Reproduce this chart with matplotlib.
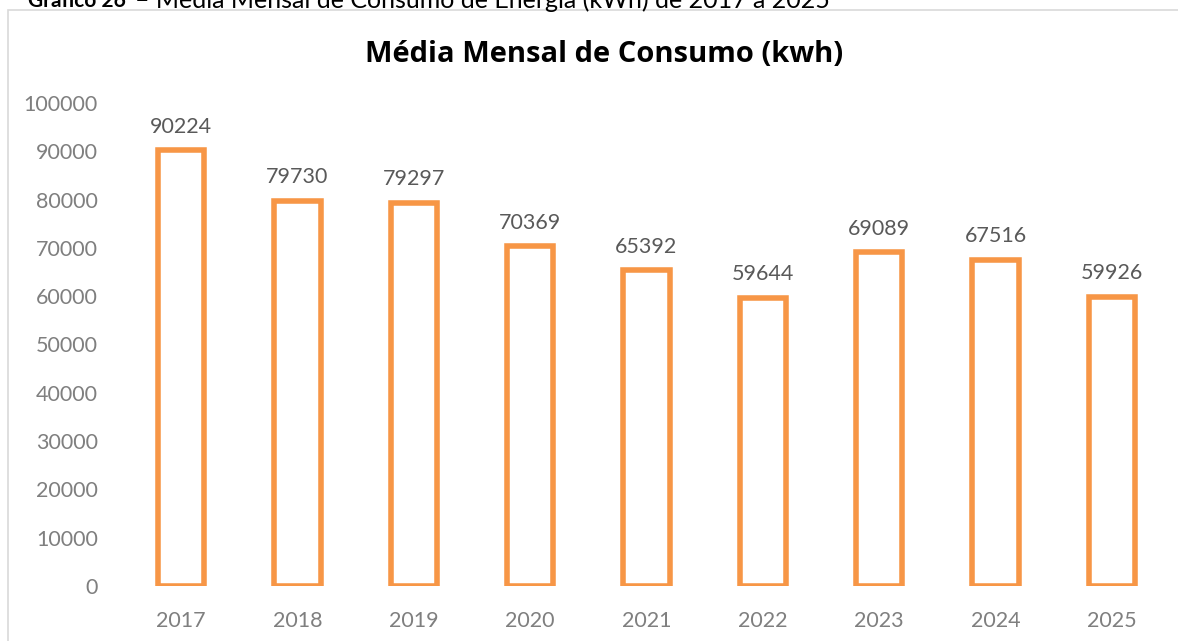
import matplotlib.pyplot as plt
from matplotlib.patches import Rectangle

anos = ['2017', '2018', '2019', '2020', '2021', '2022', '2023', '2024', '2025']
consumo = [90224, 79730, 79297, 70369, 65392, 59644, 69089, 67516, 59926]

plt.rcParams['font.family'] = ['Lato', 'DejaVu Sans']

fig = plt.figure(figsize=(11.78, 6.41), dpi=100)

# caption cut off at the top of the picture (as in the source image)
fig.text(28 / 1178, 0.999, 'Gráfico 26', fontsize=15, fontweight='bold', color='black', va='center', ha='left')
fig.text(135 / 1178, 0.999, '– Média Mensal de Consumo de Energia (kWh) de 2017 a 2025', fontsize=18,
         color='black', va='center', ha='left')

# light frame around chart area
fig.patches.append(Rectangle((8 / 1178, -0.1), 1.2, (641 - 10) / 641 + 0.1, transform=fig.transFigure,
                             fill=False, edgecolor='#D9D9D9', linewidth=1.2))

ax = fig.add_axes([123 / 1178, 55 / 641, 1047 / 1178, 483 / 641])
x = range(len(anos))
ax.bar(x, consumo, width=0.4, facecolor='white', edgecolor='#F79646', linewidth=4)

for xi, v in zip(x, consumo):
    ax.text(xi, v + 2800, str(v), ha='center', va='bottom', fontsize=15.5, color='#595959')

ax.set_xlim(-0.5, len(anos) - 0.5)
ax.set_ylim(0, 100000)
ax.set_yticks(range(0, 100001, 10000))
ax.set_yticklabels([str(t) for t in range(0, 100001, 10000)])
ax.set_xticks(list(x))
ax.set_xticklabels(anos)
ax.tick_params(axis='both', length=0, labelsize=15.5, labelcolor='#7F7F7F')
ax.tick_params(axis='y', pad=18)
ax.tick_params(axis='x', pad=18)
for s in ax.spines.values():
    s.set_visible(False)
ax.patch.set_alpha(0)

fig.text(604 / 1178, 1 - 55 / 641, 'Média Mensal de Consumo (kwh)', ha='center', va='center',
         fontsize=21, fontweight='bold', color='black', family=['Open Sans', 'DejaVu Sans'])

fig.savefig('out.png', dpi=100)
